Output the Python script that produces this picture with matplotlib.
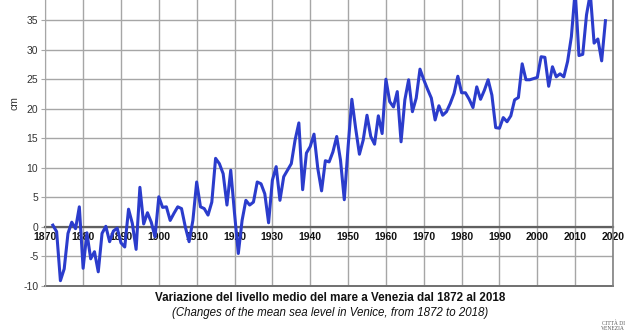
import matplotlib.pyplot as plt
import numpy as np

# Livello medio annuo del mare a Venezia (cm), 1872-2018
anni = np.arange(1872, 2019)
livello = [
    0.3, -0.8, -9.1, -7.1, -1.1, 0.8, -0.3, 3.4, -7.0, -1.0,          # 1872-1881
    -5.4, -4.2, -7.6, -1.1, 0.1, -2.5, -0.7, -0.2, -2.7, -3.4,        # 1882-1891
    3.0, 0.6, -3.8, 6.7, 0.5, 2.4, 0.8, -1.7, 5.1, 3.3,               # 1892-1901
    3.4, 1.1, 2.3, 3.4, 3.1, 0.0, -2.5, 1.1, 7.6, 3.4,                # 1902-1911
    3.1, 2.0, 4.2, 11.6, 10.7, 9.0, 3.7, 9.6, 2.3, -4.5,              # 1912-1921
    1.1, 4.5, 3.7, 4.2, 7.6, 7.3, 5.6, 0.7, 7.9, 10.2,                # 1922-1931
    4.5, 8.5, 9.6, 10.7, 14.7, 17.6, 6.3, 12.5, 13.6, 15.7,           # 1932-1941
    9.9, 6.1, 11.2, 11.0, 12.7, 15.3, 11.3, 4.6, 13.5, 21.6,          # 1942-1951
    16.7, 12.3, 14.7, 18.9, 15.3, 14.0, 18.8, 15.8, 25.0, 21.2,       # 1952-1961
    20.3, 22.9, 14.4, 21.5, 24.9, 19.5, 21.8, 26.7, 24.9, 23.3,       # 1962-1971
    21.8, 18.1, 20.5, 18.9, 19.5, 20.9, 22.6, 25.5, 22.7, 22.7,       # 1972-1981
    21.6, 20.2, 23.7, 21.6, 23.1, 24.9, 22.3, 16.8, 16.7, 18.5,       # 1982-1991
    17.8, 18.8, 21.5, 21.9, 27.6, 24.9, 24.9, 25.1, 25.3, 28.8,       # 1992-2001
    28.7, 23.8, 27.1, 25.4, 25.9, 25.4, 28.0, 32.2, 40.0, 29.0,       # 2002-2011
    29.2, 35.9, 39.5, 31.1, 31.8, 28.1, 34.9,                         # 2012-2018
]

decenni = np.arange(1870, 2021, 10)
tacche_y = np.arange(-10, 36, 5)

titolo = "Variazione del livello medio del mare a Venezia dal 1872 al 2018"
sottotitolo = "(Changes of the mean sea level in Venice, from 1872 to 2018)"

plt.rcParams["font.family"] = ["Liberation Sans", "DejaVu Sans"]
plt.rcParams["axes.unicode_minus"] = False

fig = plt.figure(figsize=(6.27, 3.36), dpi=100)
ax = fig.add_axes([0.0722, 0.1488, 0.9055, 0.8512])

ax.plot(anni, livello, color="#2b3ccc", linewidth=2.2, solid_joinstyle="round", zorder=3)

ax.set_xlim(1870, 2020)
ax.set_ylim(-10, 38.4)
ax.set_xticks(decenni)
ax.set_yticks(tacche_y)
ax.grid(True, color="#a6a6a6", linewidth=1.0)
ax.set_axisbelow(True)

# asse x sullo zero, bordo inferiore a -10
ax.spines["bottom"].set_position(("data", 0))
ax.spines["bottom"].set_color("#606060")
ax.spines["bottom"].set_linewidth(1.6)
ax.spines["bottom"].set_zorder(2)
ax.spines["top"].set_visible(False)
ax.spines["left"].set_color("#a6a6a6")
ax.spines["right"].set_color("#808080")
ax.spines["right"].set_linewidth(1.2)
ax.axhline(-10, color="#707070", linewidth=1.4, clip_on=False)

ax.tick_params(axis="x", length=0, pad=3.6, labelsize=7.5, labelcolor="#111111")
for lab in ax.get_xticklabels():
    lab.set_fontweight("bold")
ax.tick_params(axis="y", length=3, color="#a6a6a6", pad=2, labelsize=7.5, labelcolor="#333333")
ax.set_ylabel("cm", fontsize=7.5, color="#333333", labelpad=3, y=0.64)

fig.text(0.527, 0.113, titolo, ha="center", va="center", fontsize=8.4,
         fontweight="bold", color="#111111")
fig.text(0.527, 0.068, sottotitolo, ha="center", va="center", fontsize=8.3,
         style="italic", color="#111111")
fig.text(0.978, 0.03, "CITTÀ DI\nVENEZIA", ha="center", va="center", fontsize=4,
         family="Liberation Serif", color="#555555", linespacing=0.9)

fig.savefig("out.png", dpi=100)
